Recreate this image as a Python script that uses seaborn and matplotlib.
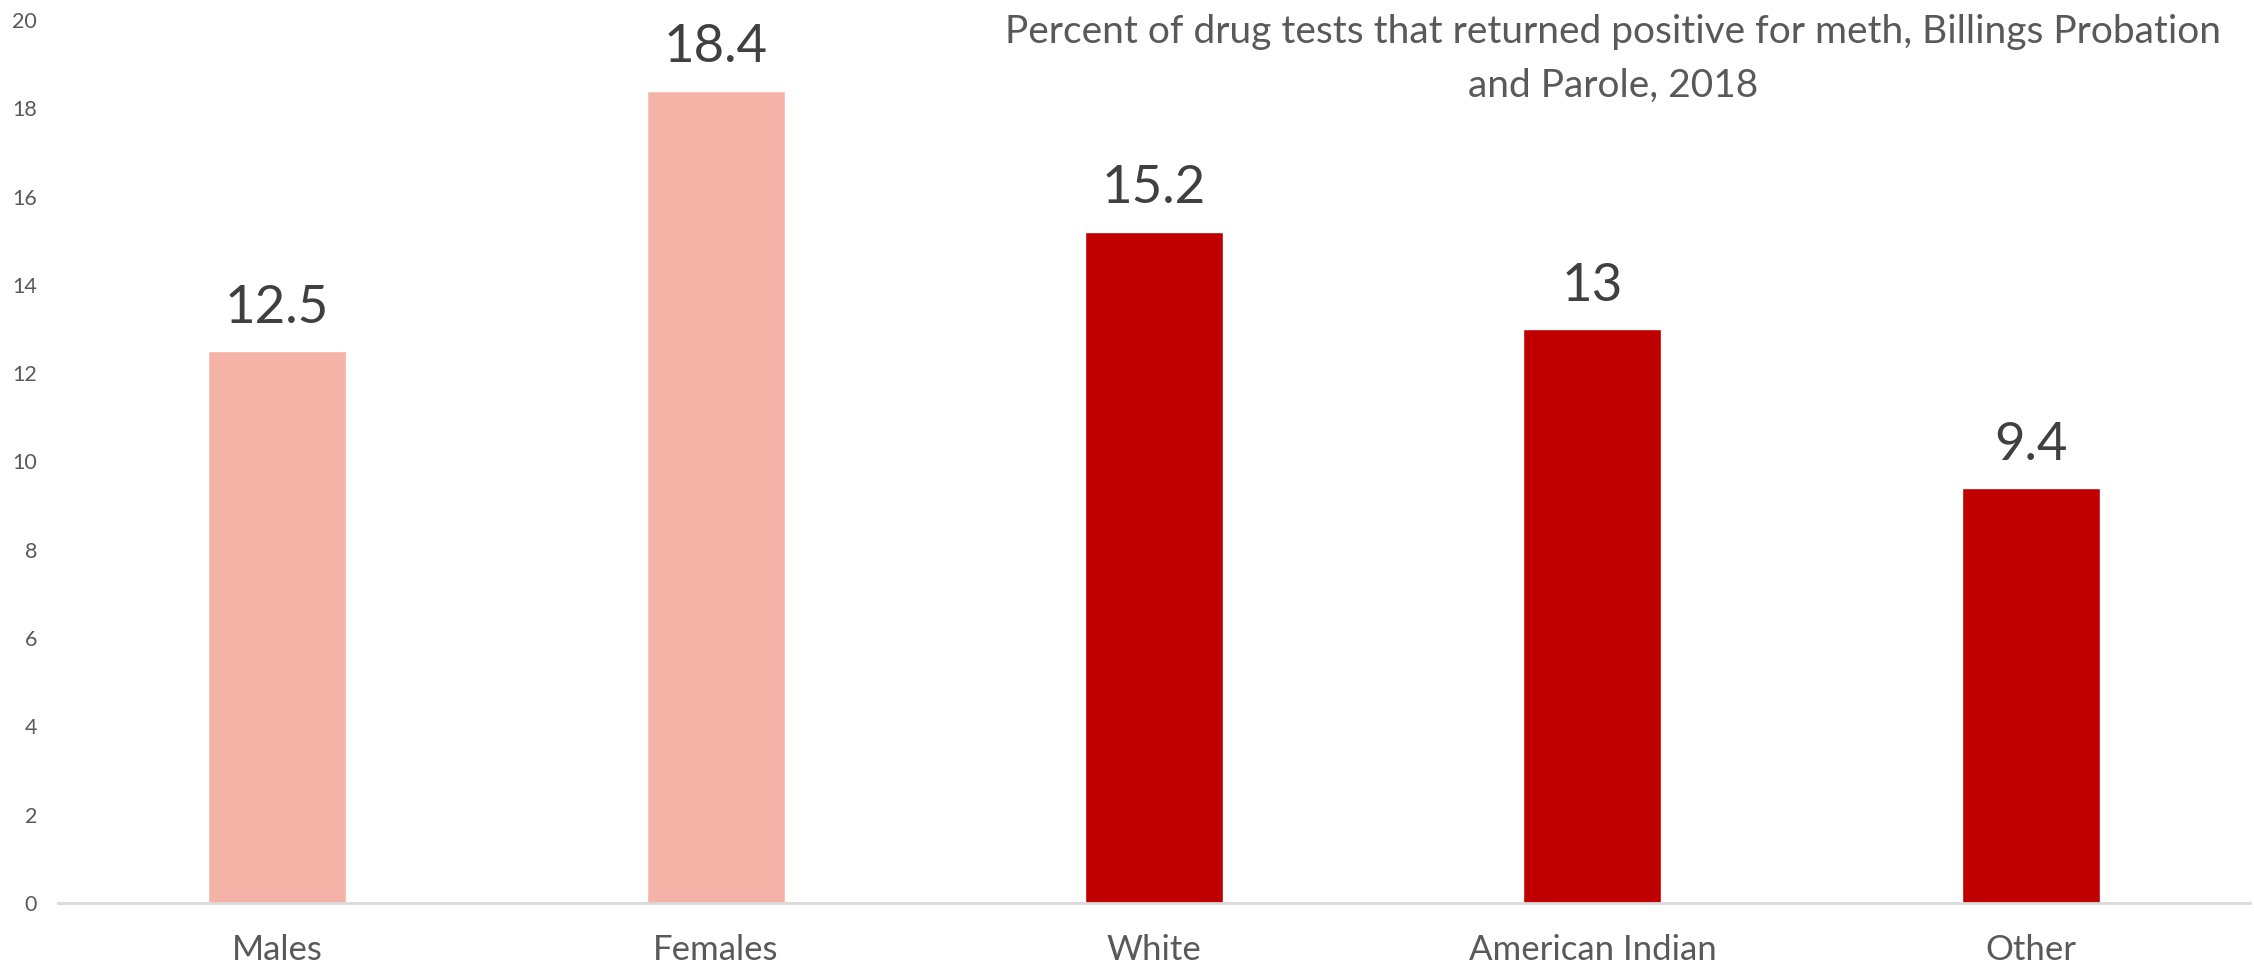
import matplotlib
matplotlib.use("Agg")
import matplotlib.pyplot as plt
import seaborn as sns
import pandas as pd

categories = ["Males", "Females", "White", "American Indian", "Other"]
values = [12.5, 18.4, 15.2, 13, 9.4]
value_labels = ["12.5", "18.4", "15.2", "13", "9.4"]
bar_colors = ["#F5B2A6", "#F5B2A6", "#C00000", "#C00000", "#C00000"]
y_ticks = [0, 2, 4, 6, 8, 10, 12, 14, 16, 18, 20]
title = "Percent of drug tests that returned positive for meth, Billings Probation\nand Parole, 2018"

df = pd.DataFrame({"group": categories, "pct": values})

sns.set_theme(style="white")
plt.rcParams["font.family"] = ["Lato", "DejaVu Sans"]

fig = plt.figure(figsize=(22.54, 9.73), dpi=100)
ax = fig.add_axes([58 / 2254, 1 - 903 / 973, (2250 - 58) / 2254, (903 - 20) / 973])

sns.barplot(data=df, x="group", y="pct", hue="group", palette=bar_colors,
            order=categories, hue_order=categories, width=0.315,
            legend=False, saturation=1, ax=ax)

ax.set_ylim(0, 20)
ax.set_yticks(y_ticks)
ax.set_yticklabels([str(t) for t in y_ticks], fontsize=15.5, color="#595959")
ax.tick_params(axis="y", length=0, pad=15)
ax.tick_params(axis="x", length=0, pad=22, labelsize=25, labelcolor="#595959")
ax.set_xlabel("")
ax.set_ylabel("")

for side in ["left", "right", "top"]:
    ax.spines[side].set_visible(False)
ax.spines["bottom"].set_color("#D9D9D9")
ax.spines["bottom"].set_linewidth(2)

for patch, lab in zip(ax.patches, value_labels):
    x = patch.get_x() + patch.get_width() / 2
    ax.annotate(lab, (x, patch.get_height()), xytext=(0, 14),
                textcoords="offset points", ha="center", va="bottom",
                fontsize=38, color="#404040")

fig.text(1613 / 2254, 1 - 14 / 973, title, ha="center", va="top",
         fontsize=28, color="#595959", linespacing=1.6)

fig.savefig("out.png", dpi=100)
